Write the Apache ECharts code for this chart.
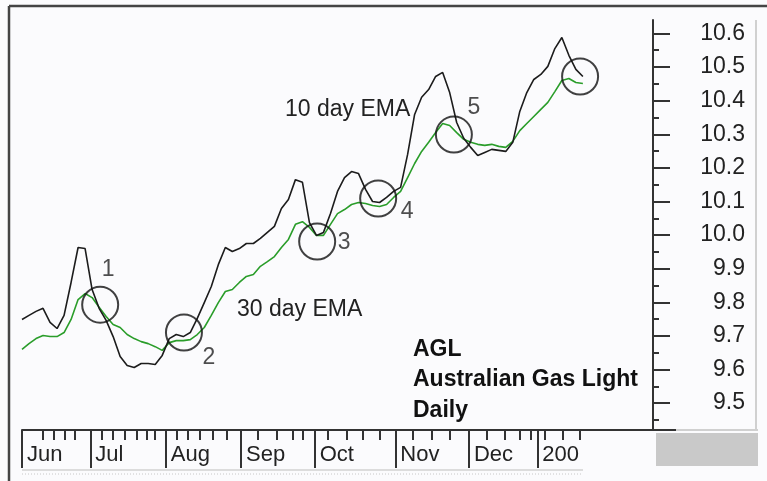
<!DOCTYPE html>
<html lang="en">
<head>
<meta charset="UTF-8">
<title>AGL Australian Gas Light - Daily</title>
<script src="https://cdn.jsdelivr.net/npm/echarts@6/dist/echarts.min.js"></script>
<style>
    html, body { margin: 0; padding: 0; background: #fbfbfd; }
    #main { width: 767px; height: 481px; }
</style>
</head>
<body>
<div id="main"></div>
<script type="text/javascript">
// one point every 2 trading days, day 0 = start of June
var STEP = 2;
var ema10 = [9.749, 9.761, 9.773, 9.782, 9.740, 9.722, 9.761, 9.859, 9.963, 9.960,
             9.838, 9.782, 9.746, 9.698, 9.639, 9.612, 9.606, 9.618, 9.618, 9.615,
             9.642, 9.692, 9.704, 9.698, 9.710, 9.752, 9.799, 9.847, 9.912, 9.963,
             9.951, 9.960, 9.975, 9.975, 9.990, 10.008, 10.026, 10.079, 10.106, 10.165,
             10.157, 10.037, 9.999, 10.008, 10.064, 10.130, 10.171, 10.189, 10.183, 10.136,
             10.100, 10.097, 10.112, 10.130, 10.142, 10.240, 10.359, 10.410, 10.433, 10.472,
             10.484, 10.424, 10.335, 10.288, 10.261, 10.237, 10.246, 10.255, 10.252, 10.249,
             10.276, 10.368, 10.424, 10.463, 10.478, 10.502, 10.555, 10.588, 10.535, 10.493,
             10.472];
var ema30 = [9.660, 9.677, 9.692, 9.701, 9.698, 9.698, 9.710, 9.749, 9.808, 9.826,
             9.814, 9.785, 9.758, 9.734, 9.725, 9.704, 9.692, 9.683, 9.677, 9.668,
             9.657, 9.680, 9.686, 9.686, 9.689, 9.704, 9.725, 9.761, 9.799, 9.832,
             9.838, 9.859, 9.877, 9.883, 9.907, 9.921, 9.936, 9.963, 9.987, 10.032,
             10.040, 10.023, 9.999, 9.999, 10.032, 10.064, 10.076, 10.091, 10.097, 10.094,
             10.088, 10.085, 10.091, 10.112, 10.130, 10.171, 10.213, 10.249, 10.276, 10.305,
             10.332, 10.326, 10.305, 10.285, 10.276, 10.270, 10.267, 10.270, 10.264, 10.261,
             10.279, 10.311, 10.332, 10.353, 10.374, 10.395, 10.427, 10.460, 10.466, 10.454,
             10.451];

var monthDays = [0, 19.5, 41, 62.5, 83.5, 106.5, 127.5, 147];
var monthNames = ['Jun', 'Jul', 'Aug', 'Sep', 'Oct', 'Nov', 'Dec', '200'];
var weekDays = [6, 9, 12.3, 15, 22.8, 26, 29.4, 32.8, 35.7, 37.9, 44.2, 47.4, 50.8, 54.5, 58.5,
                67.3, 72.7, 77.3, 80.2, 87.3, 92.7, 97.3, 102, 111.5, 117, 122, 132.6, 137.8,
                142, 145, 149.2, 154.3, 159.2];
var priceTicks = [9.5, 9.6, 9.7, 9.8, 9.9, 10.0, 10.1, 10.2, 10.3, 10.4, 10.5, 10.6];
var priceMinor = [9.45, 9.55, 9.65, 9.75, 9.85, 9.95, 10.05, 10.15, 10.25, 10.35, 10.45, 10.55];

// crossover circles
var circleDays = [22.3, 46.2, 84.2, 101.6, 123.2, 159.2];
var circleValues = [9.793, 9.710, 9.981, 10.109, 10.299, 10.472];
var circleTags = ['1', '2', '3', '4', '5', ''];
var tagOffsets = [[8, -35], [25, 25], [27, 1], [29, 13], [20, -27], [0, 0]];

var FONT = '"Liberation Sans", Arial, sans-serif';
var INK = '#222';

var circleData = circleDays.map(function (d, i) {
    return { value: [d, circleValues[i]], label: { offset: tagOffsets[i] } };
});

var myChart = echarts.init(document.getElementById('main'));
var option = {
    animation: false,
    backgroundColor: '#fbfbfd',
    grid: { left: 22, right: 114, top: 20, bottom: 51, outerBoundsMode: 'none' },
    xAxis: [{
        type: 'value', min: 0, max: 180, position: 'bottom',
        splitLine: { show: false },
        axisLine: { onZero: false, lineStyle: { color: '#333', width: 2 } },
        axisTick: { customValues: monthDays, length: 38, lineStyle: { color: '#333', width: 2 } },
        axisLabel: {
            customValues: monthDays,
            formatter: function (v) { return monthNames[monthDays.indexOf(v)]; },
            align: 'left', verticalAlign: 'middle', padding: [0, 0, 0, 5], margin: 25,
            fontSize: 22, fontFamily: FONT, color: INK
        }
    }, {
        type: 'value', min: 0, max: 180, position: 'bottom',
        splitLine: { show: false },
        axisLine: { show: false, onZero: false },
        axisTick: { customValues: weekDays, length: 10, lineStyle: { color: '#333', width: 2 } },
        axisLabel: { show: false }
    }],
    yAxis: [{
        type: 'value', min: 9.42, max: 10.64, position: 'right',
        splitLine: { show: false },
        axisLine: { show: true, onZero: false, lineStyle: { color: '#333', width: 2 } },
        axisTick: { customValues: priceTicks, length: 17, lineStyle: { color: '#333', width: 2 } },
        axisLabel: {
            customValues: priceTicks,
            formatter: function (v) { return v.toFixed(1); },
            align: 'right', margin: 92,
            fontSize: 23, fontFamily: FONT, color: INK
        }
    }, {
        type: 'value', min: 9.42, max: 10.64, position: 'right',
        splitLine: { show: false },
        axisLine: { show: false, onZero: false },
        axisTick: { customValues: priceMinor, length: 6, lineStyle: { color: '#333', width: 2 } },
        axisLabel: { show: false }
    }],
    series: [{
        name: '30 day EMA', type: 'line', showSymbol: false,
        lineStyle: { color: '#2a9d2a', width: 1.6 },
        data: ema30.map(function (v, i) { return [i * STEP, v]; })
    }, {
        name: '10 day EMA', type: 'line', showSymbol: false,
        lineStyle: { color: '#1c1c1c', width: 1.6 },
        data: ema10.map(function (v, i) { return [i * STEP, v]; })
    }, {
        type: 'scatter', symbol: 'circle', symbolSize: 36, z: 5,
        itemStyle: { color: 'rgba(0,0,0,0)', borderColor: '#111', borderWidth: 2 },
        label: {
            show: true, position: 'inside',
            formatter: function (p) { return circleTags[p.dataIndex]; },
            fontSize: 23, fontFamily: FONT, color: INK
        },
        emphasis: { disabled: true },
        data: circleData
    }],
    graphic: [
        // outer frame
        { type: 'line', shape: { x1: 9, y1: 6, x2: 767, y2: 6 }, style: { stroke: '#444', lineWidth: 2.5 } },
        { type: 'line', shape: { x1: 9, y1: 6, x2: 9, y2: 481 }, style: { stroke: '#444', lineWidth: 2.5 } },
        // right panel
        { type: 'line', shape: { x1: 653, y1: 430, x2: 676, y2: 430 }, style: { stroke: '#333', lineWidth: 2 } },
        { type: 'line', shape: { x1: 676, y1: 430, x2: 758, y2: 430 }, style: { stroke: '#d0d0d0', lineWidth: 2 } },
        { type: 'line', shape: { x1: 756, y1: 20, x2: 756, y2: 430 }, style: { stroke: '#d0d0d0', lineWidth: 2 } },
        { type: 'rect', shape: { x: 656, y: 433, width: 102, height: 33 }, style: { fill: '#c9c9c9' } },
        // scroller under the month strip
        { type: 'line', shape: { x1: 22, y1: 470, x2: 583, y2: 470 }, style: { stroke: '#dcdcdc', lineWidth: 2 } },
        { type: 'line', shape: { x1: 22, y1: 474, x2: 583, y2: 474 }, style: { stroke: '#c8c8c8', lineWidth: 1, lineDash: [1, 2] } },
        // annotations
        { type: 'text', left: 285, top: 98, style: { text: '10 day EMA', font: '23px ' + FONT, fill: INK } },
        { type: 'text', left: 237, top: 298, style: { text: '30 day EMA', font: '23px ' + FONT, fill: INK } },
        { type: 'text', left: 413, top: 338, style: { text: 'AGL', font: 'bold 23px ' + FONT, fill: '#111' } },
        { type: 'text', left: 413, top: 368, style: { text: 'Australian Gas Light', font: 'bold 23px ' + FONT, fill: '#111' } },
        { type: 'text', left: 413, top: 399, style: { text: 'Daily', font: 'bold 23px ' + FONT, fill: '#111' } }
    ]
};
myChart.setOption(option);
</script>
</body>
</html>
